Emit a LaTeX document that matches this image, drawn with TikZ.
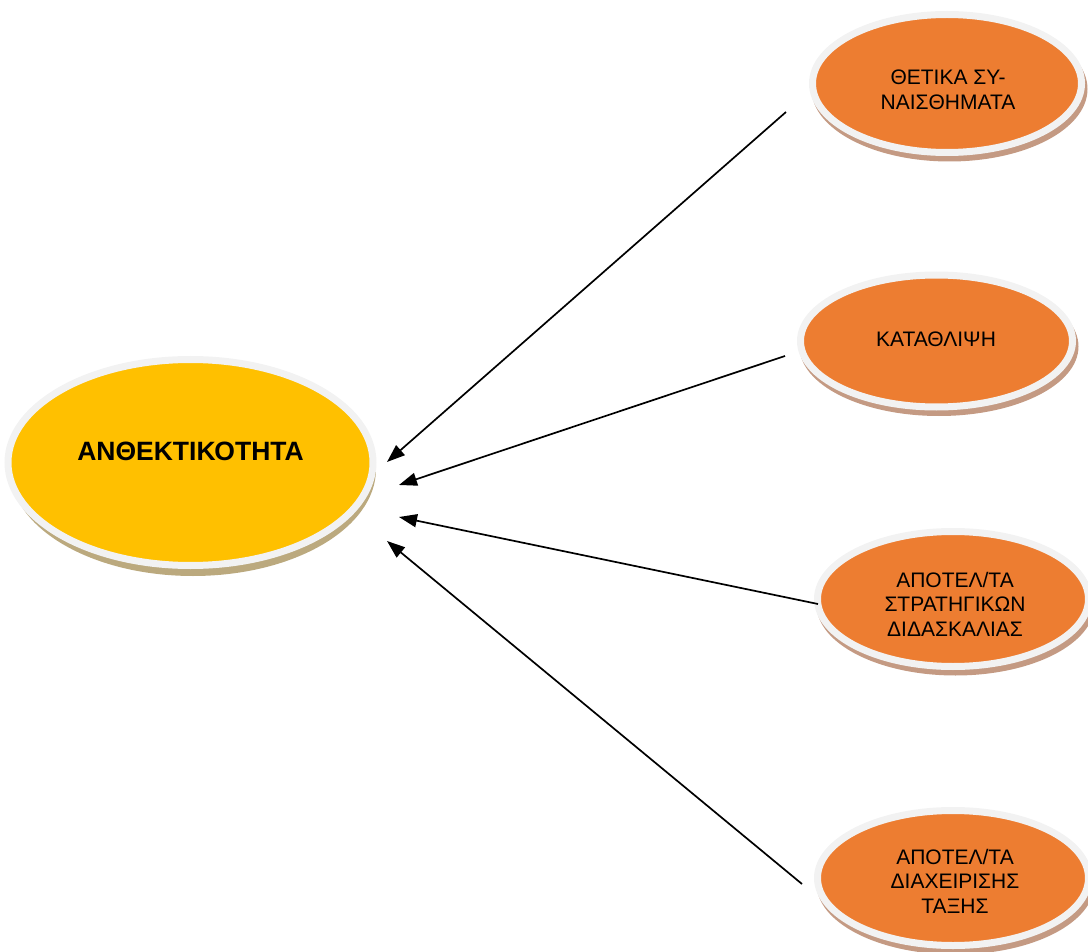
\documentclass[tikz,border=0pt]{standalone}
\usepackage{fontspec}
\setmainfont{Liberation Sans}
\usetikzlibrary{shapes.geometric,arrows.meta}
\pgfdeclarelayer{bg}
\pgfsetlayers{bg,main}
\definecolor{yel}{HTML}{FFC000}
\definecolor{org}{HTML}{ED7D31}
\definecolor{ring}{HTML}{F2F2F2}
\definecolor{yshadow}{HTML}{BBA97E}
\definecolor{oshadow}{HTML}{C49A83}
\tikzset{
  bubble/.style={ellipse, draw=ring, line width=7pt, inner sep=0pt, align=center, text=black},
  small/.style={bubble, fill=org, font=\fontsize{21}{24.5}\selectfont},
  big/.style={bubble, fill=yel, font=\fontsize{26.5}{30}\selectfont\bfseries},
  link/.style={line width=1.7pt, -{Triangle[length=18pt,width=13pt]}},
}
\begin{document}
\begin{tikzpicture}[x=1pt,y=-1pt]
\useasboundingbox (0,0) rectangle (1088,952);
\clip (0,0) rectangle (1088,952);
% nodes (minimum size = path size; ring line width 7 centred on path)
\node[big, minimum width=365pt, minimum height=206pt] (res) at (190.5,462.5) {};
\node[font=\fontsize{26.5}{30}\selectfont\bfseries] (restext) at (190.5,451) {ΑΝΘΕΚΤΙΚΟΤΗΤΑ};
\node[small, minimum width=269pt, minimum height=138pt] (pos) at (947,83.5) {};
\node[font=\fontsize{21}{24.5}\selectfont, align=center] (postext) at (948,90) {ΘΕΤΙΚΑ ΣΥ-\\ΝΑΙΣΘΗΜΑΤΑ};
\node[small, minimum width=272pt, minimum height=132pt] (dep) at (936.5,341) {};
\node[font=\fontsize{21}{24.5}\selectfont] (deptext) at (936,339) {ΚΑΤΑΘΛΙΨΗ};
\node[small, minimum width=271pt, minimum height=135pt] (str) at (953,599) {};
\node[font=\fontsize{21}{24.5}\selectfont, align=center] (strtext) at (955,604) {ΑΠΟΤΕΛ/ΤΑ\\ΣΤΡΑΤΗΓΙΚΩΝ\\ΔΙΔΑΣΚΑΛΙΑΣ};
\node[small, minimum width=271pt, minimum height=135pt] (cls) at (953,878) {};
\node[font=\fontsize{21}{24.5}\selectfont, align=center] (clstext) at (955,881) {ΑΠΟΤΕΛ/ΤΑ\\ΔΙΑΧΕΙΡΙΣΗΣ\\ΤΑΞΗΣ};
% shadows
\begin{pgfonlayer}{bg}
\fill[yshadow] ([shift={(2.5,6.5)}]res.center) ellipse [x radius=183, y radius=107];
\foreach \n/\rx/\ry in {pos/138/72.5, dep/139.5/69.5, str/139/71, cls/139/71}
  \fill[oshadow] ([shift={(2.5,5.5)}]\n.center) ellipse [x radius=\rx, y radius=\ry];
\end{pgfonlayer}
% connector ends
\coordinate (s1) at (786,112);
\coordinate (t1) at (387,462);
\coordinate (s2) at (785,356);
\coordinate (t2) at (399,485);
\coordinate (s3) at (818,604);
\coordinate (t3) at (399,517);
\coordinate (s4) at (802,884);
\coordinate (t4) at (387,541);
\draw[link] (s1) -- (t1);
\draw[link] (s2) -- (t2);
\draw[link] (s3) -- (t3);
\draw[link] (s4) -- (t4);
\end{tikzpicture}
\end{document}
